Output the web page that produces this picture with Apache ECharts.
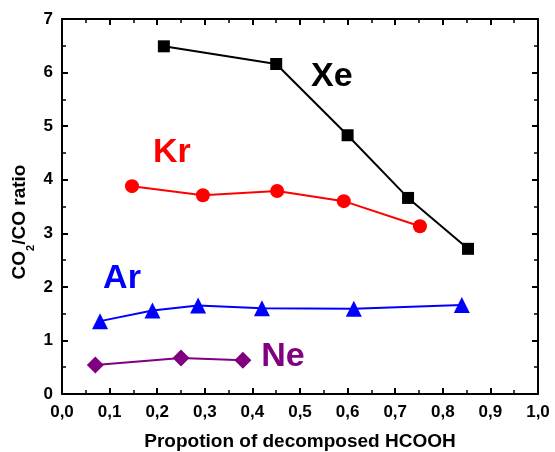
<!DOCTYPE html>
<html><head><meta charset="utf-8">
<script src="https://cdn.jsdelivr.net/npm/echarts@6/dist/echarts.min.js"></script>
<style>html,body{margin:0;padding:0;background:#fff}#c{width:555px;height:452px}</style>
</head><body><div id="c"></div>
<script>
const xeX=[0.214,0.45,0.60,0.727,0.853];
const xeY=[6.49,6.16,4.83,3.66,2.71];
const krX=[0.147,0.296,0.452,0.592,0.752];
const krY=[3.88,3.71,3.79,3.60,3.13];
const arX=[0.08,0.19,0.286,0.42,0.613,0.84];
const arY=[1.36,1.56,1.65,1.60,1.59,1.66];
const neX=[0.07,0.25,0.38];
const neY=[0.54,0.67,0.63];
const xTicks=['0,0','0,1','0,2','0,3','0,4','0,5','0,6','0,7','0,8','0,9','1,0'];
const labels=[['Xe',0.567,5.93,'#000'],['Kr',0.231,4.50,'#f00'],['Ar',0.126,2.15,'#00f'],['Ne',0.464,0.69,'#800080']];

const zip=(a,b)=>a.map((v,i)=>[v,b[i]]);
const F='"Liberation Sans", Arial, sans-serif';
const chart=echarts.init(document.getElementById('c'));
const axisCommon={axisLine:{show:true,onZero:false,lineStyle:{color:'#000',width:2}},
  axisTick:{show:true,inside:true,length:6,lineStyle:{color:'#000',width:2}},
  minorTick:{show:true,splitNumber:2,length:4,lineStyle:{color:'#000',width:1.5}},
  splitLine:{show:false}};
function mk(name,x,y,color,symbol,size){
  return {type:'line',name,data:zip(x,y),symbol,symbolSize:size,
    lineStyle:{color,width:2},itemStyle:{color},z:3};
}
chart.setOption({
  animation:false,
  grid:{left:62,right:17,top:19,bottom:58,containLabel:false,outerBoundsMode:'none'},
  xAxis:[Object.assign({type:'value',min:0,max:1,interval:0.1,
    axisLabel:{color:'#000',fontFamily:F,fontWeight:'bold',fontSize:17,margin:10,
      formatter:(v)=>xTicks[Math.round(v*10)]},
    name:'Propotion of decomposed HCOOH',nameLocation:'middle',nameGap:38,
    nameTextStyle:{color:'#000',fontFamily:F,fontWeight:'bold',fontSize:19}},axisCommon),
    Object.assign({type:'value',min:0,max:1,interval:0.1,position:'top',axisLabel:{show:false}},axisCommon)],
  yAxis:[Object.assign({type:'value',min:0,max:7,interval:1,
    axisLabel:{color:'#000',fontFamily:F,fontWeight:'bold',fontSize:17,margin:9}},axisCommon),
    Object.assign({type:'value',min:0,max:7,interval:1,position:'right',axisLabel:{show:false}},axisCommon)],
  series:[mk('Xe',xeX,xeY,'#000','rect',12),mk('Kr',krX,krY,'#f00','circle',14),
    mk('Ar',arX,arY,'#00f','triangle',16),mk('Ne',neX,neY,'#800080','diamond',17)]
});
const g=labels.map(l=>{const p=chart.convertToPixel({xAxisIndex:0,yAxisIndex:0},[l[1],l[2]]);
  return {type:'text',x:p[0],y:p[1],style:{text:l[0],fill:l[3],font:'bold 34px '+F,align:'center',verticalAlign:'middle'}};});
g.push({type:'text',x:20,y:222,rotation:Math.PI/2,
  style:{text:'{a|CO}{s|2}{a|/CO ratio}',align:'center',verticalAlign:'middle',
    rich:{a:{fill:'#000',fontFamily:F,fontWeight:'bold',fontSize:19},
      s:{fill:'#000',fontFamily:F,fontWeight:'bold',fontSize:11,verticalAlign:'bottom',padding:[0,0,-7,0]}}}});
chart.setOption({graphic:g});
</script></body></html>
